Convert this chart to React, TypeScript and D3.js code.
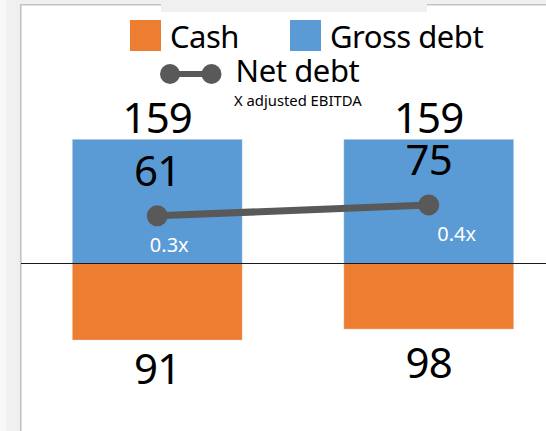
import React from "react";
import * as d3 from "d3";

// ---- data ----
const categories = ["Period 1", "Period 2"];
const grossDebt = [159, 159];
const cash = [98, 84]; // bar lengths as drawn
const cashLabels = ["91", "98"]; // labels as printed under the cash bars
const netDebt = [61, 75];
const leverageLabels = ["0.3x", "0.4x"];
const legendItems = ["Cash", "Gross debt", "Net debt"];
const legendNote = "X adjusted EBITDA";

// ---- layout / style ----
const W = 546;
const H = 431;
const ORANGE = "#ED7D31";
const BLUE = "#5B9BD5";
const GRAY = "#595959";
const FONT = "'Noto Sans', 'Open Sans', sans-serif";
const ratioDx = [12, 28];
const cashLabelDy = [43.5, 49];

export default function App() {
  const x = d3
    .scaleBand<string>()
    .domain(categories)
    .range([21, 565])
    .paddingInner(0.374)
    .paddingOuter(0.189);
  const y = d3.scaleLinear().domain([-159, 159]).range([387.7, 139.3]);
  const cx = (i: number) => (x(categories[i]) as number) + x.bandwidth() / 2;

  const linePts: [number, number][] = netDebt.map((v, i) => [cx(i), y(v)]);
  const lineGen = d3.line();

  return (
    <svg
      width={W}
      height={H}
      style={{ position: "absolute", left: 0, top: 0, fontFamily: FONT }}
    >
      {/* page background and frame */}
      <rect x={0} y={0} width={W} height={H} fill="#f0f0f0" />
      <rect x={0} y={0} width={6} height={H} fill="#f8f8f8" />
      <rect x={21} y={5} width={W - 21} height={H - 5} fill="#ffffff" />
      <line x1={20.5} y1={4.5} x2={20.5} y2={H} stroke="#c4c4c4" strokeWidth={1.2} />
      <line x1={21.5} y1={5} x2={21.5} y2={H} stroke="#dcdcdc" strokeWidth={1} />
      <line x1={20} y1={4.8} x2={W} y2={4.8} stroke="#c4c4c4" strokeWidth={1.4} />
      <rect x={161} y={0} width={266} height={12} fill="#f0f0f0" />

      {/* legend */}
      <rect x={130} y={20} width={31} height={31} fill={ORANGE} />
      <text x={170} y={47.7} fontSize={31} letterSpacing={-0.5} fill="#000">
        {legendItems[0]}
      </text>
      <rect x={290} y={20} width={31} height={31} fill={BLUE} />
      <text x={330} y={47.7} fontSize={31} letterSpacing={-0.5} fill="#000">
        {legendItems[1]}
      </text>
      <line x1={170} y1={74} x2={211.5} y2={74} stroke={GRAY} strokeWidth={6} />
      <circle cx={170} cy={74} r={10} fill={GRAY} />
      <circle cx={211.5} cy={74} r={10} fill={GRAY} />
      <text x={235.5} y={82.3} fontSize={31} letterSpacing={-0.4} fill="#000">
        {legendItems[2]}
      </text>
      <text x={234} y={106} fontSize={14.8} fill="#000">
        {legendNote}
      </text>

      {/* gross debt bars */}
      {grossDebt.map((v, i) => (
        <rect
          key={"g" + i}
          x={x(categories[i])}
          y={y(v)}
          width={x.bandwidth()}
          height={y(0) - y(v)}
          fill={BLUE}
          stroke="#ffffff"
          strokeOpacity={0.3}
          strokeWidth={1}
        />
      ))}
      {/* cash bars (negative) */}
      {cash.map((v, i) => (
        <rect
          key={"c" + i}
          x={x(categories[i])}
          y={y(0)}
          width={x.bandwidth()}
          height={y(-v) - y(0)}
          fill={ORANGE}
          stroke="#ffffff"
          strokeOpacity={0.3}
          strokeWidth={1}
        />
      ))}

      {/* zero line */}
      <line x1={21} y1={y(0)} x2={W} y2={y(0)} stroke="#1a1a1a" strokeWidth={1.2} />

      {/* net debt line */}
      <path d={lineGen(linePts) || ""} stroke={GRAY} strokeWidth={7} fill="none" />
      {linePts.map((p, i) => (
        <circle key={"p" + i} cx={p[0]} cy={p[1]} r={10.5} fill={GRAY} />
      ))}

      {/* labels */}
      {grossDebt.map((v, i) => (
        <text
          key={"gl" + i}
          x={cx(i)}
          y={y(v) - 6}
          fontSize={42}
          letterSpacing={-0.8}
          textAnchor="middle"
          fill="#000"
        >
          {v}
        </text>
      ))}
      {netDebt.map((v, i) => (
        <text
          key={"nl" + i}
          x={cx(i)}
          y={y(v) - 30}
          fontSize={42}
          letterSpacing={-0.8}
          textAnchor="middle"
          fill="#000"
        >
          {v}
        </text>
      ))}
      {leverageLabels.map((t, i) => (
        <text
          key={"ll" + i}
          x={cx(i) + ratioDx[i]}
          y={y(netDebt[i]) + 36}
          fontSize={20}
          textAnchor="middle"
          fill="#ffffff"
        >
          {t}
        </text>
      ))}
      {cashLabels.map((t, i) => (
        <text
          key={"cl" + i}
          x={cx(i)}
          y={y(-cash[i]) + cashLabelDy[i]}
          fontSize={42}
          letterSpacing={-0.8}
          textAnchor="middle"
          fill="#000"
        >
          {t}
        </text>
      ))}
    </svg>
  );
}
